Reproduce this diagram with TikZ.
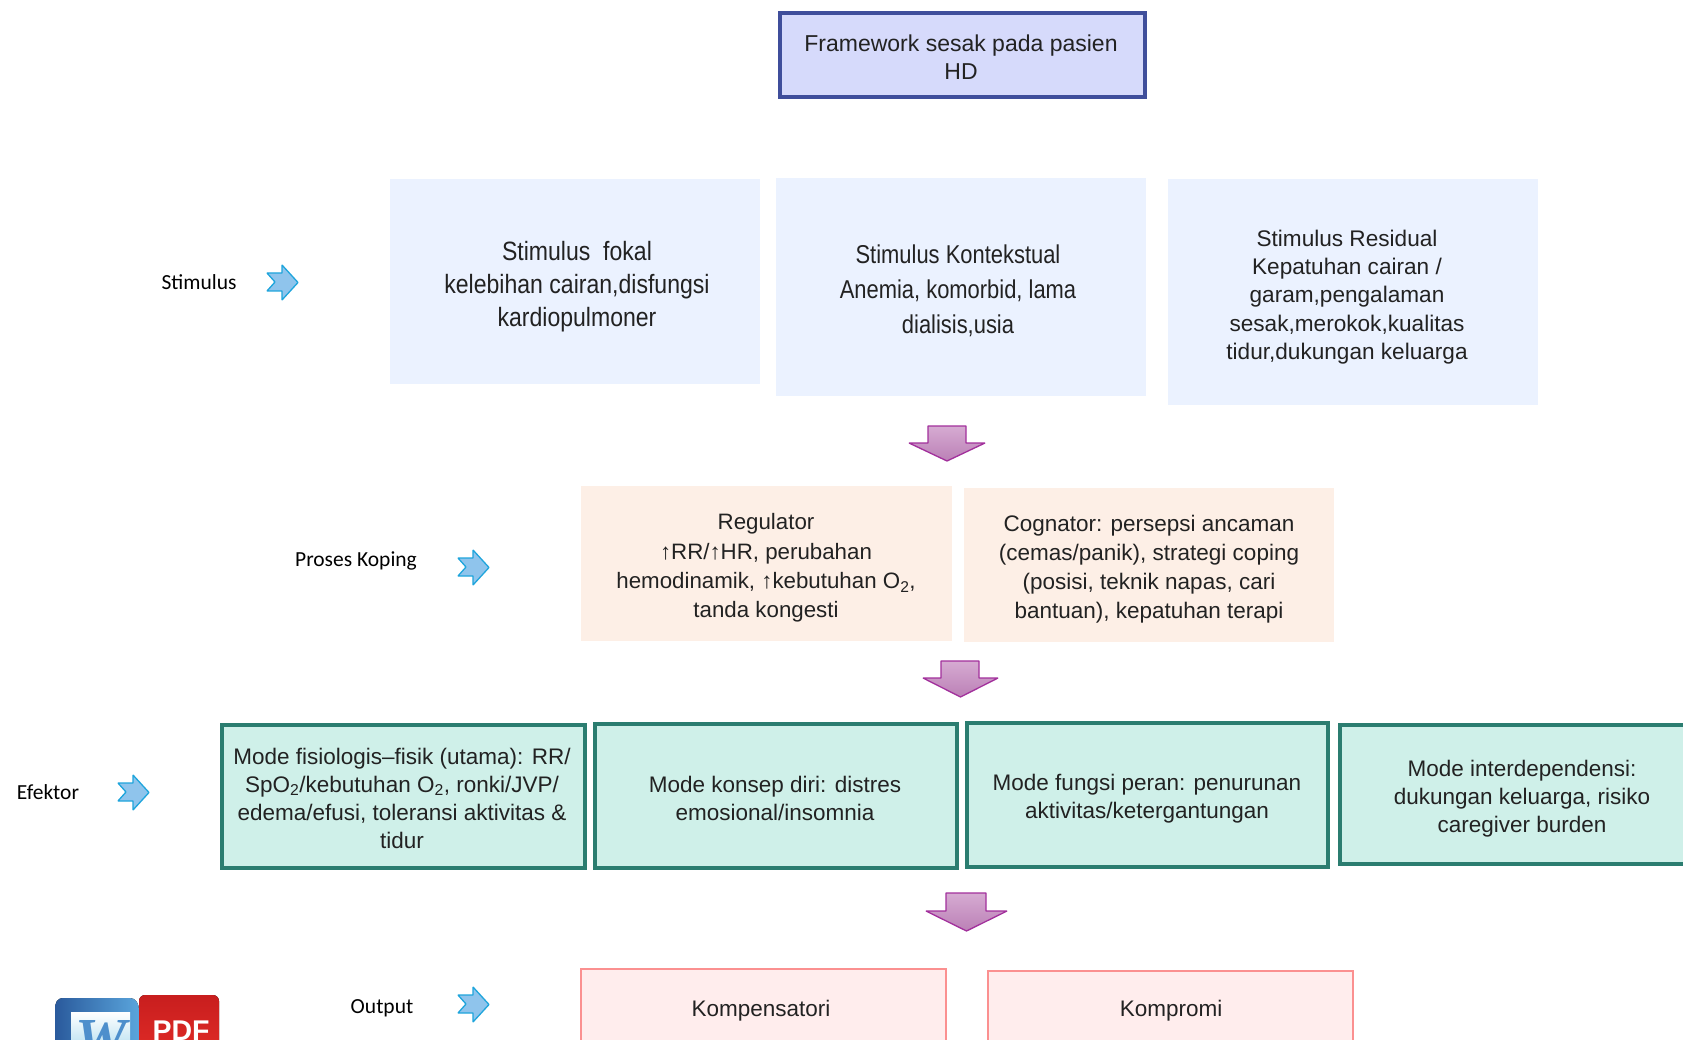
\documentclass[tikz,border=0pt]{standalone}
\usepackage{fontspec}
\setmainfont{Liberation Sans}
\newfontfamily\narrowf[FakeStretch=0.87]{Liberation Sans}
\newfontfamily\narrowg[FakeStretch=0.85]{Liberation Sans}
\newfontfamily\labelf{Carlito}
\newfontfamily\logof{Liberation Serif}
\definecolor{txt}{HTML}{222222}
\definecolor{titlefill}{HTML}{D6DAFB}
\definecolor{titleline}{HTML}{3F4E9B}
\definecolor{stimfill}{HTML}{EBF2FF}
\definecolor{copefill}{HTML}{FDEFE6}
\definecolor{modefill}{HTML}{CFF0E9}
\definecolor{modeline}{HTML}{2B7D70}
\definecolor{outfill}{HTML}{FFEDED}
\definecolor{outline}{HTML}{FB9090}
\definecolor{bigtop}{HTML}{D6ABD2}
\definecolor{bigbot}{HTML}{BB80B6}
\definecolor{bigline}{HTML}{A2309C}
\definecolor{smallfill}{HTML}{8FC4EC}
\definecolor{smallline}{HTML}{1FA5DC}
\definecolor{wordl}{HTML}{2A5A9C}
\definecolor{wordr}{HTML}{5AA5DC}
\definecolor{wordin}{HTML}{BFE3F2}
\definecolor{wordw}{HTML}{4E8FCC}
\definecolor{pdft}{HTML}{C81E1E}
\definecolor{pdfb}{HTML}{DE2A26}
\tikzset{
  boxbase/.style={rectangle,inner sep=0pt,outer sep=0pt,anchor=north west},
  titlebox/.style={boxbase,fill=titlefill,draw=titleline,line width=3.5pt},
  stimbox/.style={boxbase,fill=stimfill},
  copebox/.style={boxbase,fill=copefill},
  modebox/.style={boxbase,fill=modefill,draw=modeline,line width=3.5pt},
  outbox/.style={boxbase,fill=outfill,draw=outline,line width=2pt},
  body/.style={text=txt,align=center,inner sep=0pt,font=\fontsize{22.5}{28}\selectfont},
  sidelabel/.style={text=black,inner sep=0pt,font=\labelf\fontsize{21.5}{24}\selectfont},
  bigarrow/.style={top color=bigtop,bottom color=bigbot,draw=bigline,line width=1.3pt,line join=bevel},
  smallarrow/.style={fill=smallfill,draw=smallline,line width=1.3pt,line join=bevel},
}
\newcommand{\bigdown}[7]{% x1 xs1 xs2 x2 ytop yshoulder ytip
  \path[bigarrow] (#2,#5) -- (#3,#5) -- (#3,#6) -- (#4,#6) -- ({(#1+#4)/2},#7) -- (#1,#6) -- (#2,#6) -- cycle;}
\newcommand{\smallright}[2]{% x y of left top corner reference
  \path[smallarrow,shift={(#1,#2)}] (0,8) -- (15,8) -- (15,0) -- (31,17.5) -- (15,35) -- (15,26) -- (0,26) -- (8,17) -- cycle;}
\begin{document}
\begin{tikzpicture}[x=1pt,y=-1pt]
\useasboundingbox (0,0) rectangle (1683,1040);
\clip (0,0) rectangle (1683,1040);
\fill[white] (0,0) rectangle (1683,1040);

% Title
\node[titlebox,minimum width=365pt,minimum height=84pt] (title) at (780,13) {};
\node[body,font=\fontsize{23}{28}\selectfont] (titlet) at (961,57) {Framework sesak pada pasien\\HD};

% Stimulus row
\node[stimbox,minimum width=370pt,minimum height=205pt] (s1) at (390,179) {};
\node[stimbox,minimum width=370pt,minimum height=218pt] (s2) at (776,178) {};
\node[stimbox,minimum width=370pt,minimum height=226pt] (s3) at (1168,179) {};
\node[text=txt,align=center,inner sep=0pt,font=\narrowf\fontsize{26.5}{33}\selectfont] (s1t) at (577,287) {Stimulus\ \ fokal\\kelebihan cairan,disfungsi\\kardiopulmoner};
\node[text=txt,align=center,inner sep=0pt,font=\narrowg\fontsize{25.8}{35}\selectfont] (s2t) at (958,291) {Stimulus Kontekstual\\Anemia, komorbid, lama\\dialisis,usia};
\node[body,font=\fontsize{22.6}{28.4}\selectfont] (s3t) at (1347,297) {Stimulus Residual\\Kepatuhan cairan /\\garam,pengalaman\\sesak,merokok,kualitas\\tidur,dukungan keluarga};

% Coping row
\node[copebox,minimum width=371pt,minimum height=155pt] (reg) at (581,486) {};
\node[copebox,minimum width=370pt,minimum height=154pt] (cog) at (964,488) {};
\node[body,font=\fontsize{22.3}{29.3}\selectfont] (regt) at (766,568) {Regulator\\↑RR/↑HR, perubahan\\hemodinamik, ↑kebutuhan O\textsubscript{2},\\tanda kongesti};
\node[body,font=\fontsize{22.5}{29}\selectfont] (cogt) at (1149,569) {Cognator: persepsi ancaman\\(cemas/panik), strategi coping\\(posisi, teknik napas, cari\\bantuan), kepatuhan terapi};

% Mode row
\node[modebox,minimum width=363pt,minimum height=143pt] (m1) at (222,725) {};
\node[modebox,minimum width=362pt,minimum height=144pt] (m2) at (595,724) {};
\node[modebox,minimum width=361pt,minimum height=144pt] (m3) at (967,723) {};
\node[modebox,minimum width=360pt,minimum height=139pt] (m4) at (1340,725) {};
\node[body] (m1t) at (402,798) {Mode fisiologis--fisik (utama): RR/\\SpO\textsubscript{2}/kebutuhan O\textsubscript{2}, ronki/JVP/\\edema/efusi, toleransi aktivitas \&\\tidur};
\node[body] (m2t) at (775,798) {Mode konsep diri: distres\\emosional/insomnia};
\node[body] (m3t) at (1147,799) {Mode fungsi peran: penurunan\\aktivitas/ketergantungan};
\node[body] (m4t) at (1522,799) {Mode interdependensi:\\dukungan keluarga, risiko\\caregiver burden};

% Output row
\node[outbox,minimum width=365pt,minimum height=120pt] (o1) at (581,969) {};
\node[outbox,minimum width=365pt,minimum height=120pt] (o2) at (988,971) {};
\node[body] (o1t) at (761,1011) {Kompensatori};
\node[body] (o2t) at (1171,1011) {Kompromi};

% Side labels
\node[sidelabel] (l1) at (199,282) {Stimulus};
\node[sidelabel] (l2) at (356,561) {Proses Koping};
\node[sidelabel] (l3) at (48,792) {Efektor};
\node[sidelabel] (l4) at (382,1008) {Output};

% Small block arrows
\smallright{267}{265}
\smallright{458}{550}
\smallright{118}{775}
\smallright{458}{987}

% Big block arrows
\bigdown{909}{928}{966}{985}{426}{443}{461}
\bigdown{923}{941}{979}{998}{661}{678}{697}
\bigdown{926}{946}{986}{1007}{893}{911}{931}

% Logo
\fill[left color=wordl,right color=wordr] (55,1010) .. controls (55,1002) and (57,998) .. (64,998) -- (130,998) .. controls (136,998) and (139,1004) .. (139,1010) -- (139,1045) -- (55,1045) -- cycle;
\fill[top color=white,bottom color=wordin] (71,1012) rectangle (130,1045);
\node[inner sep=0pt,anchor=base,text=wordw,font=\logof\bfseries\itshape\fontsize{58}{58}\selectfont] (logow) at (101,1058) {W};
\fill[top color=pdft,bottom color=pdfb,rounded corners=6pt] (139,995) rectangle (219,1050);
\node[inner sep=0pt,anchor=base,text=white,font=\bfseries\fontsize{28.5}{30}\selectfont] (logop) at (181,1040) {PDF};
\end{tikzpicture}
\end{document}
